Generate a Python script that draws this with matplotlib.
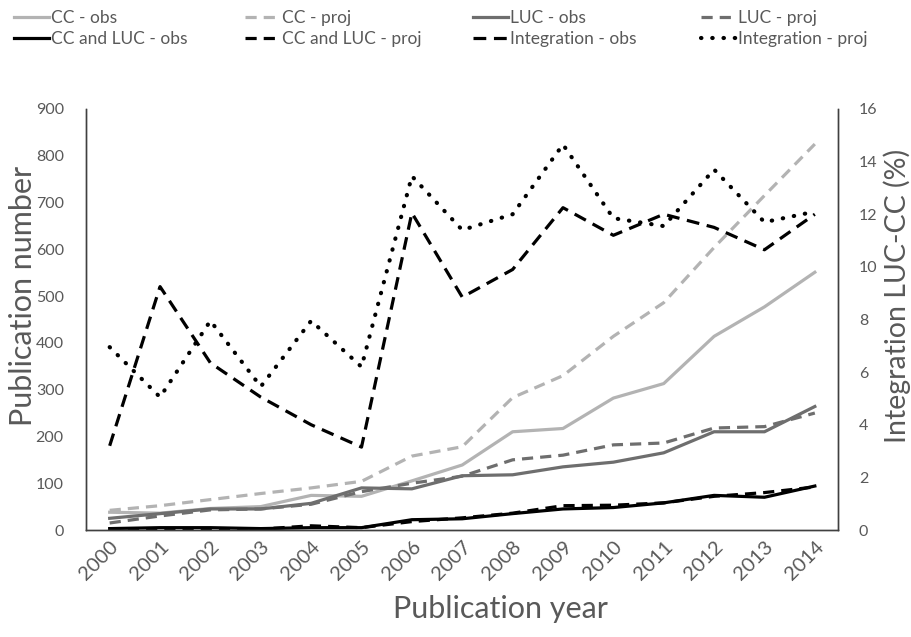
import matplotlib
matplotlib.use("Agg")
import matplotlib.pyplot as plt

years = list(range(2000, 2015))
year_labels = [str(y) for y in years]

cc_obs = [38, 36, 46, 50, 74, 72, 105, 139, 210, 217, 282, 313, 414, 477, 551]
cc_proj = [42, 52, 65, 78, 90, 104, 158, 178, 283, 330, 414, 486, 604, 715, 825]
luc_obs = [25, 35, 45, 45, 57, 90, 88, 116, 118, 135, 145, 165, 210, 210, 264]
luc_proj = [15, 30, 43, 45, 55, 82, 100, 115, 150, 160, 182, 186, 218, 221, 250]
ccluc_obs = [3, 5, 5, 3, 5, 5, 22, 24, 35, 45, 48, 58, 74, 70, 94]
ccluc_proj = [2, 3, 3, 2, 9, 5, 18, 26, 36, 52, 53, 58, 72, 80, 92]
integ_obs = [3.2, 9.25, 6.35, 5.05, 4.0, 3.15, 12.05, 8.85, 9.9, 12.25, 11.2, 12.0, 11.5, 10.65, 12.0]
integ_proj = [6.95, 5.05, 7.95, 5.45, 7.95, 6.2, 13.45, 11.4, 12.0, 14.65, 11.85, 11.55, 13.7, 11.7, 12.1]

plt.rcParams['font.family'] = ['Lato', 'DejaVu Sans']
txt = '#595959'

W, H = 911, 637
x0, x1, y0, y1 = 86, 838, 109, 530
fig = plt.figure(figsize=(W / 100, H / 100), dpi=100)
ax = fig.add_axes([x0 / W, 1 - y1 / H, (x1 - x0) / W, (y1 - y0) / H])
ax2 = ax.twinx()

light = '#b3b3b3'
dark = '#6e6e6e'
lw = 2.3
dash = (0, (3.5, 2.2))

l1, = ax.plot(years, cc_obs, color=light, lw=lw, label='CC - obs')
l2, = ax.plot(years, cc_proj, color=light, lw=lw, ls=dash, label='CC - proj')
l3, = ax.plot(years, luc_obs, color=dark, lw=lw, label='LUC - obs')
l4, = ax.plot(years, luc_proj, color=dark, lw=lw, ls=dash, label='LUC - proj')
l5, = ax.plot(years, ccluc_obs, color='black', lw=lw, label='CC and LUC - obs')
l6, = ax.plot(years, ccluc_proj, color='black', lw=lw, ls=dash, label='CC and LUC - proj')
l7, = ax2.plot(years, integ_obs, color='black', lw=lw, ls=(0, (4, 2.4)), label='Integration - obs')
l8, = ax2.plot(years, integ_proj, color='black', lw=3, ls=(0, (0.1, 2.6)),
               dash_capstyle='round', label='Integration - proj')

ax.set_xlim(1999.53, 2014.46)
ax.set_ylim(0, 900)
ax2.set_ylim(0, 16)
ax.set_yticks(range(0, 901, 100))
ax2.set_yticks(range(0, 17, 2))
ax.set_xticks(years)
ax.set_xticklabels(year_labels, rotation=45, ha='right', rotation_mode='anchor')

for a in (ax, ax2):
    a.tick_params(length=0, labelsize=11.5, colors=txt, pad=16)
    a.spines['top'].set_visible(False)
    for s in ('left', 'right', 'bottom'):
        a.spines[s].set_color('#404040')
        a.spines[s].set_linewidth(1.0)
ax2.tick_params(axis='y', pad=15)
ax.tick_params(axis='x', labelsize=14.5, pad=6)

def ax_x(px):
    return (px - x0) / (x1 - x0)

def ax_y(py):
    return (y1 - py) / (y1 - y0)

ax.set_xlabel('Publication year', fontsize=22, color=txt)
ax.xaxis.set_label_coords(ax_x(500), ax_y(609))
ax.xaxis.label.set_va('center')

ax.set_ylabel('Publication number', fontsize=22, color=txt)
ax.yaxis.set_label_coords(ax_x(23), ax_y(296))
ax.yaxis.label.set_va('center')

ax2.set_ylabel('Integration LUC-CC (%)', fontsize=20.5, color=txt)
ax2.yaxis.set_label_coords(ax_x(897), ax_y(296))
ax2.yaxis.label.set_va('center')

cols = [(l1, l5), (l2, l6), (l3, l7), (l4, l8)]
xs = [14, 245, 473, 701]
for x, col in zip(xs, cols):
    leg = fig.legend(handles=list(col), labels=[h.get_label() for h in col],
                     loc='upper left', bbox_to_anchor=(x / W, 1 - 10 / H),
                     frameon=False, fontsize=12.5, handlelength=2.0,
                     handletextpad=0.15, labelspacing=0.3,
                     borderpad=0, borderaxespad=0)
    for t in leg.get_texts():
        t.set_color(txt)

fig.savefig('out.png', dpi=100)
